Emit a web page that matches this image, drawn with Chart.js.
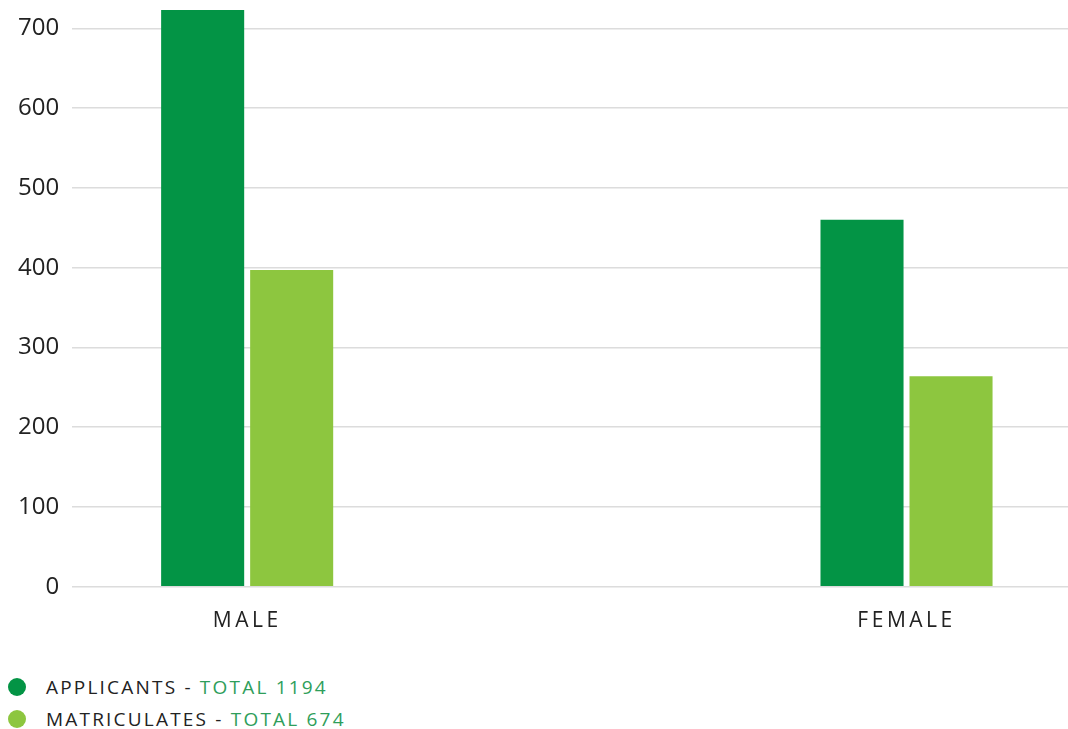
<!DOCTYPE html>
<html>
<head>
<meta charset="utf-8">
<script src="https://cdn.jsdelivr.net/npm/chart.js@4/dist/chart.umd.min.js"></script>
<style>
  body { margin: 0; background: #fff; font-family: "Open Sans", sans-serif; }
  #wrap { position: relative; width: 1068px; height: 654px; }
  .legend { position: absolute; left: 8px; top: 671px; font-size: 19px; letter-spacing: 2.2px; color: #222; }
  .legend div { display: flex; align-items: center; height: 32px; white-space: pre; }
  .legend span.dot { width: 18px; height: 18px; border-radius: 50%; margin-right: 20px; display: inline-block; }
  .legend .tot { color: #2e9e5a; }
</style>
</head>
<body>
<div id="wrap"><canvas id="genderChart"></canvas></div>
<div class="legend" id="legend"></div>
<script>
document.addEventListener("DOMContentLoaded", () => {

    var categories = ["MALE", "FEMALE"];
    var applicants = [734, 460];
    var matriculates = [397, 264];
    var seriesNames = ["APPLICANTS", "MATRICULATES"];
    var seriesTotals = [1194, 674];
    var colors = ["#039445", "#8dc63f"];

    // legend with two text colours, built as html
    var legend = document.getElementById("legend");
    seriesNames.forEach((name, i) => {
        var row = document.createElement("div");
        row.innerHTML = '<span class="dot" style="background:' + colors[i] + '"></span>' +
            name + ' - <span class="tot">TOTAL ' + seriesTotals[i] + '</span>';
        legend.appendChild(row);
    });

    var spacedLabels = {
        id: "spacedLabels",
        afterDatasetsDraw(chart) { chart.ctx.letterSpacing = "3.5px"; },
        afterDraw(chart) { chart.ctx.letterSpacing = "0px"; }
    };

    new Chart("genderChart", {
        type: "bar",
        data: {
            datasets: [{
                label: seriesNames[0],
                backgroundColor: colors[0],
                data: categories.map((c, i) => ({ x: i, y: applicants[i] })),
                clip: 0
            }, {
                label: seriesNames[1],
                backgroundColor: colors[1],
                data: categories.map((c, i) => ({ x: i, y: matriculates[i] })),
                clip: 0
            }]
        },
        plugins: [spacedLabels],
        options: {
            responsive: true,
            maintainAspectRatio: false,
            animation: false,
            categoryPercentage: 0.27,
            barPercentage: 0.933,
            layout: { padding: { left: 5, right: 0, top: 10, bottom: 6 } },
            plugins: { legend: { display: false }, tooltip: { enabled: false } },
            scales: {
                x: {
                    type: "linear",
                    offset: false,
                    min: -0.2654,
                    max: 1.2449,
                    afterBuildTicks: (scale) => {
                        scale.ticks = categories.map((c, i) => ({ value: i }));
                    },
                    grid: { display: false },
                    border: { display: false },
                    ticks: {
                        z: 1,
                        padding: 14,
                        color: "#222",
                        font: { family: "Open Sans", size: 21 },
                        maxRotation: 0,
                        callback: (value) => categories[value]
                    }
                },
                y: {
                    min: 0,
                    max: 723,
                    afterFit: (scale) => { scale.paddingTop = 0; },
                    grid: { color: "#dcdcdc", lineWidth: 1.5, drawTicks: false },
                    border: { display: false },
                    ticks: {
                        stepSize: 100,
                        includeBounds: false,
                        padding: 13,
                        color: "#222",
                        font: { family: "Open Sans", size: 24 }
                    }
                }
            }
        }
    });

});
</script>
</body>
</html>
